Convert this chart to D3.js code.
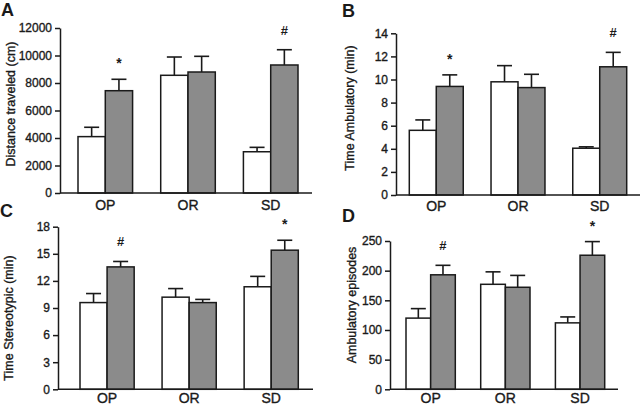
<!DOCTYPE html>
<html><head><meta charset="utf-8">
<script src="https://cdn.jsdelivr.net/npm/d3@7/dist/d3.min.js"></script>
<style>
body{margin:0;background:#fff;}
svg{display:block;font-family:"Liberation Sans",Arial,sans-serif;}
</style></head>
<body><svg id="c" width="640" height="405"></svg>
<script>
// ---- data ----
const categories = ["OP", "OR", "SD"];
const distWhite = [4100, 8560, 3000];
const distWhiteSem = [680, 1330, 320];
const distGrey = [7440, 8800, 9310];
const distGreySem = [830, 1140, 1110];
const distMarks = ["*", "", "#"];
const distTicks = [0, 2000, 4000, 6000, 8000, 10000, 12000];

const ambWhite = [5.6, 9.8, 4.05];
const ambWhiteSem = [0.9, 1.4, 0.12];
const ambGrey = [9.4, 9.3, 11.1];
const ambGreySem = [1.0, 1.15, 1.25];
const ambMarks = ["*", "", "#"];
const ambTicks = [0, 2, 4, 6, 8, 10, 12, 14];

const steWhite = [9.6, 10.2, 11.35];
const steWhiteSem = [1.0, 0.95, 1.15];
const steGrey = [13.55, 9.6, 15.4];
const steGreySem = [0.6, 0.35, 1.1];
const steMarks = ["#", "", "*"];
const steTicks = [0, 3, 6, 9, 12, 15, 18];

const epiWhite = [120, 177, 112];
const epiWhiteSem = [16, 21, 10];
const epiGrey = [193, 172, 226];
const epiGreySem = [16, 20, 23];
const epiMarks = ["#", "", "*"];
const epiTicks = [0, 50, 100, 150, 200, 250];

const panelLetters = ["A", "B", "C", "D"];
const yTitles = ["Distance traveled (cm)", "Time Ambulatory (min)", "Time Stereotypic (min)", "Ambulatory episodes"];

// ---- layout ----
const panels = [
  {letter: panelLetters[0], title: yTitles[0], white: distWhite, wSem: distWhiteSem, grey: distGrey, gSem: distGreySem, marks: distMarks, ticks: distTicks,
   left: 60, right: 312, barL: 78, barR: 298, y0: 193, yTop: 28, lx: 1, ly: 16, tx: 11, ty: 104, cy: 16.5},
  {letter: panelLetters[1], title: yTitles[1], white: ambWhite, wSem: ambWhiteSem, grey: ambGrey, gSem: ambGreySem, marks: ambMarks, ticks: ambTicks,
   left: 396, right: 640, barL: 409.3, barR: 626.7, y0: 195, yTop: 33.3, lx: 342, ly: 17, tx: 350, ty: 108, cy: 15.5},
  {letter: panelLetters[2], title: yTitles[2], white: steWhite, wSem: steWhiteSem, grey: steGrey, gSem: steGreySem, marks: steMarks, ticks: steTicks,
   left: 58, right: 313, barL: 80, barR: 298.3, y0: 389.3, yTop: 226.7, lx: 0, ly: 217, tx: 9, ty: 318, cy: 14},
  {letter: panelLetters[3], title: yTitles[3], white: epiWhite, wSem: epiWhiteSem, grey: epiGrey, gSem: epiGreySem, marks: epiMarks, ticks: epiTicks,
   left: 390, right: 618, barL: 406, barR: 604.7, y0: 389.3, yTop: 241, lx: 342, ly: 222, tx: 352, ty: 305, cy: 14}
];

const svg = d3.select("#c");
const ink = "#1a1a1a";
const heavy = sel => sel.attr("stroke", ink).attr("stroke-width", 0.35).attr("paint-order", "stroke");

panels.forEach(p => {
  const g = svg.append("g");
  const maxV = p.ticks[p.ticks.length - 1];
  const y = d3.scaleLinear().domain([0, maxV]).range([p.y0, p.yTop]);
  const x = d3.scaleBand().domain(categories).range([p.barL, p.barR]).paddingInner(0.34).paddingOuter(0);
  const sub = d3.scaleBand().domain(["w", "g"]).range([0, x.bandwidth()]).padding(0);

  const series = [
    {key: "w", vals: p.white, sem: p.wSem, fill: "#ffffff"},
    {key: "g", vals: p.grey, sem: p.gSem, fill: "#8b8b8b"}
  ];
  series.forEach(s => {
    categories.forEach((c, i) => {
      const bx = x(c) + sub(s.key);
      const bw = sub.bandwidth();
      const v = s.vals[i];
      const top = y(v + s.sem[i]);
      const cx = bx + bw / 2;
      g.append("line").attr("x1", cx).attr("x2", cx).attr("y1", y(v)).attr("y2", top)
        .attr("stroke", ink).attr("stroke-width", 1.6);
      g.append("line").attr("x1", cx - 7.5).attr("x2", cx + 7.5).attr("y1", top).attr("y2", top)
        .attr("stroke", ink).attr("stroke-width", 1.6);
      g.append("rect").attr("x", bx).attr("y", y(v)).attr("width", bw).attr("height", p.y0 - y(v))
        .attr("fill", s.fill).attr("stroke", ink).attr("stroke-width", 1.5);
      if (s.key === "g" && p.marks[i]) {
        const m = p.marks[i];
        g.append("text").attr("x", cx).attr("y", top - (m === "#" ? 15 : 11))
          .attr("text-anchor", "middle").attr("font-size", m === "#" ? 13 : 14).attr("font-weight", "bold")
          .attr("fill", ink).text(m);
      }
    });
  });

  const ax = g.append("g").attr("transform", `translate(${p.left},0)`)
    .call(d3.axisLeft(y).tickValues(p.ticks).tickFormat(d3.format("d")).tickSize(5).tickSizeOuter(0).tickPadding(3));
  ax.selectAll("text").attr("font-size", 12).attr("fill", ink).attr("font-family", '"Liberation Sans",Arial,sans-serif').call(heavy);
  ax.selectAll("line").attr("stroke", ink).attr("stroke-width", 1.5);
  ax.select(".domain").attr("stroke", ink).attr("stroke-width", 1.5);

  g.append("line").attr("x1", p.left).attr("x2", p.right).attr("y1", p.y0).attr("y2", p.y0)
    .attr("stroke", ink).attr("stroke-width", 1.5);

  categories.forEach(c => {
    g.append("text").attr("x", x(c) + x.bandwidth() / 2).attr("y", p.y0 + p.cy)
      .attr("text-anchor", "middle").attr("font-size", 14).attr("fill", ink).text(c).call(heavy);
  });

  g.append("text").attr("transform", `translate(${p.tx},${p.ty}) rotate(-90)`)
    .attr("text-anchor", "middle").attr("dominant-baseline", "central")
    .attr("font-size", 12.5).attr("fill", ink).text(p.title).call(heavy);

  g.append("text").attr("x", p.lx).attr("y", p.ly).attr("font-size", 18).attr("font-weight", "bold")
    .attr("fill", ink).text(p.letter);
});
</script></body></html>
